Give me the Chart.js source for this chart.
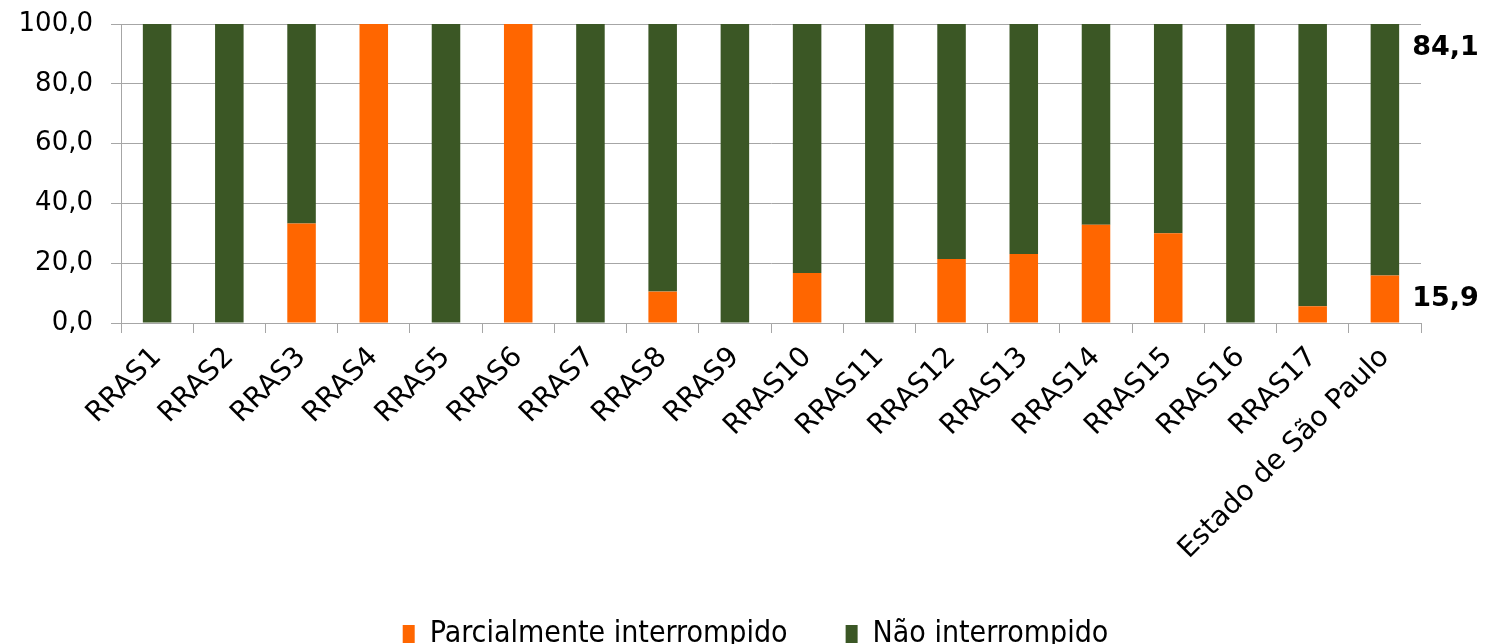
<!DOCTYPE html>
<html>
<head>
<meta charset="utf-8">
<script src="https://cdn.jsdelivr.net/npm/chart.js@4.4.1/dist/chart.umd.min.js"></script>
<style>
  html, body { margin: 0; padding: 0; background: #fff; }
  #wrap { width: 1487px; height: 644px; position: relative; }
</style>
</head>
<body>
<div id="wrap"><canvas id="chart"></canvas></div>
<script>
const categories = ['RRAS1', 'RRAS2', 'RRAS3', 'RRAS4', 'RRAS5', 'RRAS6', 'RRAS7', 'RRAS8', 'RRAS9',
    'RRAS10', 'RRAS11', 'RRAS12', 'RRAS13', 'RRAS14', 'RRAS15', 'RRAS16', 'RRAS17', 'Estado de São Paulo'];
const parcial = [0, 0, 33.3, 100, 0, 100, 0, 10.5, 0, 16.7, 0, 21.4, 23.1, 32.9, 30.0, 0, 5.6, 15.9];
const naoInterrompido = [100, 100, 66.7, 0, 100, 0, 100, 89.5, 100, 83.3, 100, 78.6, 76.9, 67.1, 70.0, 100, 94.4, 84.1];
const seriesNames = ['Parcialmente interrompido', 'Não interrompido'];
const yTicks = [0, 20, 40, 60, 80, 100];

const ORANGE = '#FF6600';
const GREEN = '#3B5725';
const GRID = '#A6A6A6';
const FONT = 'DejaVu Sans';

function fmt(v) {
    return v.toFixed(1).replace('.', ',');
}

// labels for the last bar (state total), drawn right of the bar
const endLabels = {
    id: 'endLabels',
    afterDatasetsDraw(chart) {
        const ctx = chart.ctx;
        const last = categories.length - 1;
        ctx.save();
        ctx.font = 'bold 27px "' + FONT + '"';
        ctx.fillStyle = '#000';
        ctx.textBaseline = 'middle';
        ctx.textAlign = 'left';
        chart.data.datasets.forEach((ds, i) => {
            const el = chart.getDatasetMeta(i).data[last];
            if (!el) return;
            const x = el.x + el.width / 2 + 13;
            const y = i === 0 ? (el.y + el.base) / 2 : el.y + 24;
            ctx.fillText(fmt(ds.data[last]), x, y);
        });
        ctx.restore();
    }
};

// nudge the legend a bit lower and to the right, like the original
const legendShift = {
    id: 'legendShift',
    afterLayout(chart) {
        const lg = chart.legend;
        if (!lg) return;
        lg.top += 15; lg.bottom += 15;
        lg.left += 45; lg.right += 45;
    }
};

new Chart(document.getElementById('chart'), {
    type: 'bar',
    data: {
        labels: categories,
        datasets: [
            { label: seriesNames[0], data: parcial, backgroundColor: ORANGE },
            { label: seriesNames[1], data: naoInterrompido, backgroundColor: GREEN }
        ]
    },
    options: {
        responsive: true,
        maintainAspectRatio: false,
        animation: false,
        layout: { padding: { top: 24, right: 66, left: 0, bottom: 0 } },
        datasets: { bar: { barPercentage: 1, categoryPercentage: 0.395 } },
        plugins: {
            tooltip: { enabled: false },
            legend: {
                position: 'bottom',
                labels: {
                    font: { family: 'DejaVu Sans Condensed', size: 30 },
                    color: '#000',
                    boxWidth: 12,
                    boxHeight: 18,
                    padding: 58
                },
                onClick: null
            }
        },
        scales: {
            x: {
                stacked: true,
                afterFit: s => {
                    s.height = 223;
                    // let the long rotated label run past the axis box
                    s._computeLabelArea = () => undefined;
                },
                grid: { display: true, drawOnChartArea: false, offset: true, tickLength: 10, color: GRID },
                border: { display: true, color: GRID },
                ticks: {
                    color: '#000',
                    font: { family: FONT, size: 28 },
                    minRotation: 45,
                    maxRotation: 45,
                    autoSkip: false,
                    padding: 8
                }
            },
            y: {
                stacked: true,
                min: 0,
                max: 100,
                afterFit: s => { s.width = 121; s.paddingTop = 0; s.paddingBottom = 0; },
                afterBuildTicks: s => { s.ticks = yTicks.map(v => ({ value: v })); },
                grid: { color: GRID, tickLength: 10 },
                border: { display: true, color: GRID },
                ticks: {
                    color: '#000',
                    font: { family: FONT, size: 26 },
                    padding: 18,
                    callback: v => fmt(v)
                }
            }
        }
    },
    plugins: [endLabels, legendShift]
});
</script>
</body>
</html>
